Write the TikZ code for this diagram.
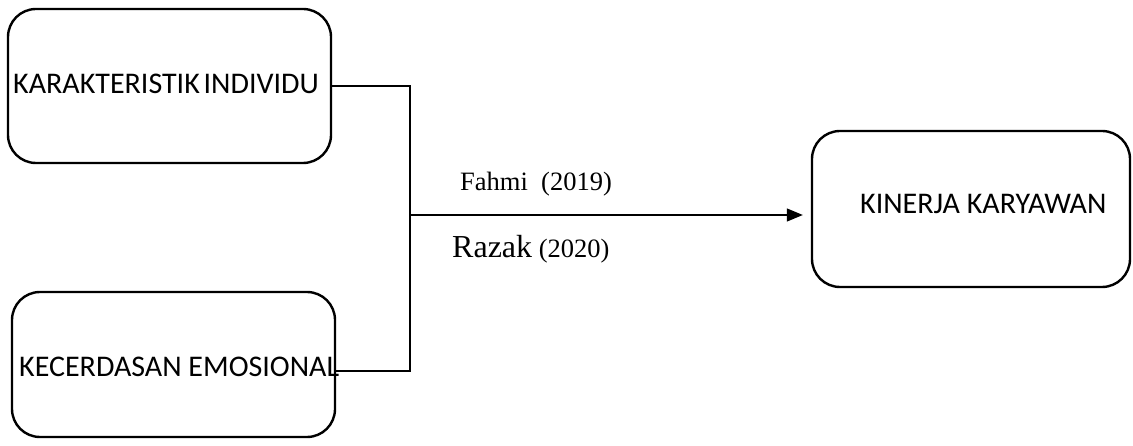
\documentclass[tikz,border=0pt]{standalone}
\usepackage{fontspec}
\setmainfont{Liberation Serif}
\newfontfamily\boxfont{Carlito}
\usetikzlibrary{arrows.meta}
\begin{document}
\begin{tikzpicture}[x=1pt,y=-1pt,
  box/.style={draw=black,line width=2.4pt,rounded corners=28pt,inner sep=0pt},
  boxtext/.style={anchor=base west,inner sep=0pt,font=\boxfont\fontsize{30}{36}\selectfont},
  conn/.style={draw=black,line width=1.3pt},
  reftext/.style={anchor=base west,inner sep=0pt}]
\useasboundingbox (0,0) rectangle (1133,446);
\node[box,minimum width=323pt,minimum height=154pt] (b1) at (169.5,86) {};
\node[box,minimum width=323pt,minimum height=145pt] (b2) at (173.5,364.5) {};
\node[box,minimum width=318pt,minimum height=156pt] (b3) at (971,209) {};
\node[boxtext] (t1) at (13,94) {KARAKTERISTIK\hspace{-3pt} INDIVIDU};
\node[boxtext] (t2) at (19,377) {KECERDASAN EMOSIONAL};
\node[boxtext] (t3) at (860,214) {KINERJA KARYAWAN};
\coordinate (j) at (410,215);
\coordinate (e2) at (336,371);
\draw[conn] (b1.east) -| (j);
\draw[conn] (e2) -| (j);
\draw[conn,-{Triangle[length=16pt,width=13pt]}] (j) -- ([xshift=-8pt]b3.west |- j);
\node[reftext] (f) at (460,191) {\fontsize{26.5}{30}\selectfont Fahmi\ \ (2019)};
\node[reftext] (r) at (452,258) {\fontsize{32}{36}\selectfont Razak\fontsize{26.5}{30}\selectfont{} (2020)};
\end{tikzpicture}
\end{document}
